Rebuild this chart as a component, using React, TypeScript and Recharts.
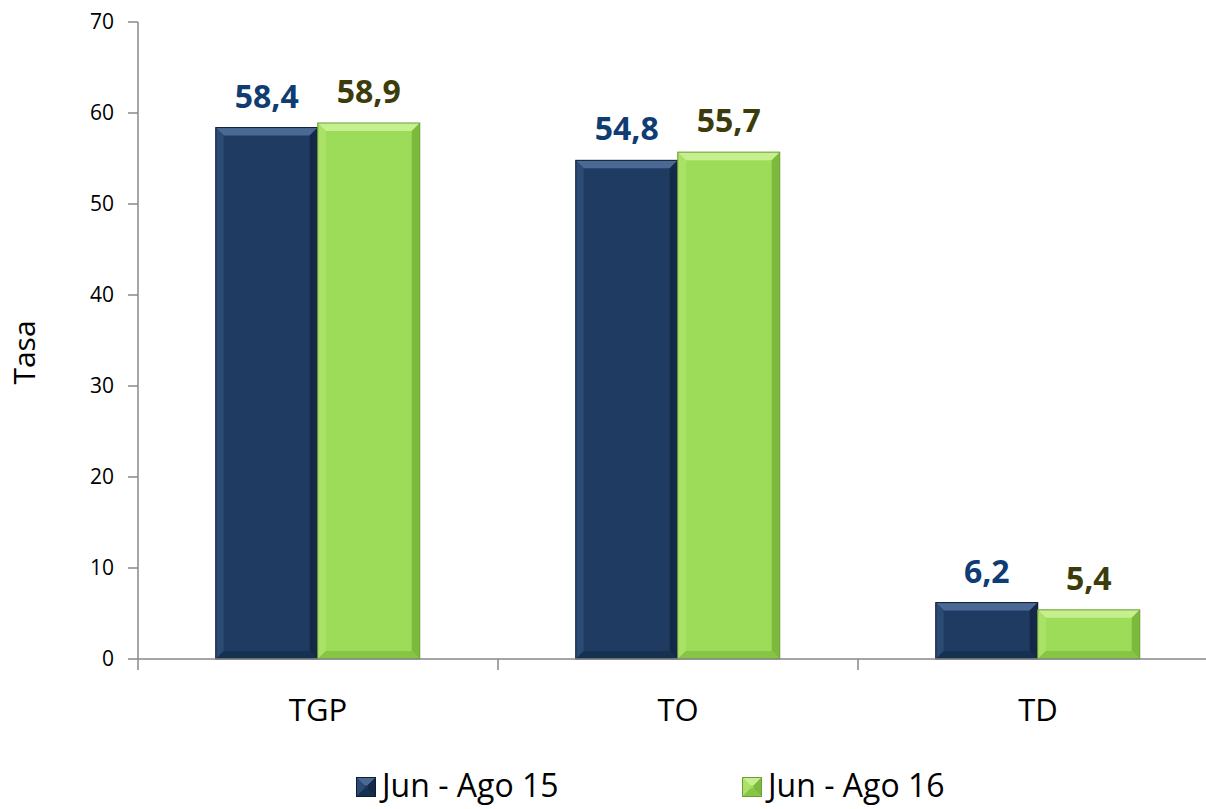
import React from 'react';
import { BarChart, Bar, XAxis, YAxis, Legend, LabelList } from 'recharts';

const categories = ['TGP', 'TO', 'TD'];
const junAgo15 = [58.4, 54.8, 6.2];
const junAgo16 = [58.9, 55.7, 5.4];
const yTicks = [0, 10, 20, 30, 40, 50, 60, 70];
const seriesNames = ['Jun - Ago 15', 'Jun - Ago 16'];

const data = categories.map((c, i) => ({ name: c, a: junAgo15[i], b: junAgo16[i] }));

const FONT = '"Open Sans", sans-serif';
const AXIS = '#888888';

const palettes: Record<string, { main: string; top: string; left: string; right: string; bottom: string; edge: string }> = {
  a: { main: '#1F3B62', top: '#4A6A95', left: '#2B4A74', right: '#142847', bottom: '#16304F', edge: '#0E1D33' },
  b: { main: '#9DDC59', top: '#C6F08F', left: '#AAE268', right: '#7CB93C', bottom: '#86C546', edge: '#6C9E34' },
};

// barra con biselado estilo Excel
const BevelBar = (props: any) => {
  const { x, y, width: w, height: h, pal } = props;
  if (!w || !h) return null;
  const p = palettes[pal];
  const b = Math.min(8, h / 2, w / 2);
  return (
    <g>
      <rect x={x} y={y} width={w} height={h} fill={p.main} />
      <polygon points={`${x},${y} ${x + w},${y} ${x + w - b},${y + b} ${x + b},${y + b}`} fill={p.top} />
      <polygon points={`${x},${y} ${x + b},${y + b} ${x + b},${y + h - b} ${x},${y + h}`} fill={p.left} />
      <polygon points={`${x + w},${y} ${x + w - b},${y + b} ${x + w - b},${y + h - b} ${x + w},${y + h}`} fill={p.right} />
      <polygon points={`${x},${y + h} ${x + b},${y + h - b} ${x + w - b},${y + h - b} ${x + w},${y + h}`} fill={p.bottom} />
      <rect x={x} y={y} width={w} height={h} fill="none" stroke={p.edge} strokeWidth={1} />
    </g>
  );
};

const CategoryTick = (props: any) => {
  const { x, y, payload } = props;
  const half = payload && payload.offset ? payload.offset : 180;
  return (
    <g>
      <line x1={x - half} x2={x - half} y1={y} y2={y + 11} stroke={AXIS} strokeWidth={1.5} />
      <text x={x} y={y + 62} textAnchor="middle" fontFamily={FONT} fontSize={31} fill="#000">
        {payload.value}
      </text>
    </g>
  );
};

const YTitle = (props: any) => {
  const vb = props.viewBox || {};
  const cy = (vb.y ?? 22) + (vb.height ?? 637) / 2 + 12;
  return (
    <text x={0} y={0} transform={`translate(35, ${cy}) rotate(-90)`} textAnchor="middle" fontFamily={FONT} fontSize={30} fill="#000">
      Tasa
    </text>
  );
};

const LegendContent = () => {
  const items = [
    { name: seriesNames[0], pal: 'a' },
    { name: seriesNames[1], pal: 'b' },
  ];
  return (
    <div style={{ display: 'flex', fontFamily: FONT, fontSize: 32, lineHeight: 1.2, color: '#000' }}>
      {items.map((it, i) => (
        <div key={it.name} style={{ display: 'flex', alignItems: 'center', width: i === 0 ? 386 : 'auto' }}>
          <svg width={20} height={20} style={{ marginRight: 6, marginTop: 4 }}>
            <BevelBar x={0.5} y={0.5} width={19} height={19} pal={it.pal} />
          </svg>
          <span>{it.name}</span>
        </div>
      ))}
    </div>
  );
};

const fmt = (v: any) => String(v).replace('.', ',');

export default function App() {
  return (
    <div style={{ position: 'absolute', left: 0, top: 0, width: 1206, height: 809, overflow: 'hidden', background: '#fff' }}>
      <BarChart
        width={1230}
        height={809}
        data={data}
        margin={{ top: 22, right: 12, left: 0, bottom: 60 }}
        barGap={0}
        barCategoryGap="21.6%"
      >
        <XAxis
          dataKey="name"
          height={90}
          stroke={AXIS}
          strokeWidth={1.5}
          tickLine={false}
          tickSize={0}
          tickMargin={0}
          tick={<CategoryTick />}
          interval={0}
        />
        <YAxis
          width={138}
          domain={[0, 70]}
          ticks={yTicks}
          interval={0}
          stroke={AXIS}
          strokeWidth={1.5}
          tickSize={10}
          tickMargin={14}
          tick={{ fill: '#000', fontFamily: FONT, fontSize: 21 }}
          label={<YTitle />}
        />
        <Legend
          verticalAlign="middle"
          content={<LegendContent />}
          wrapperStyle={{ top: 766, left: 356, width: 760 }}
        />
        <Bar dataKey="a" name={seriesNames[0]} isAnimationActive={false} shape={(p: any) => <BevelBar {...p} pal="a" />}>
          <LabelList
            dataKey="a"
            position="top"
            offset={20}
            formatter={fmt}
            style={{ fill: '#0F3D73', fontFamily: FONT, fontSize: 32, fontWeight: 700 }}
          />
        </Bar>
        <Bar dataKey="b" name={seriesNames[1]} isAnimationActive={false} shape={(p: any) => <BevelBar {...p} pal="b" />}>
          <LabelList
            dataKey="b"
            position="top"
            offset={20}
            formatter={fmt}
            style={{ fill: '#3C3C0A', fontFamily: FONT, fontSize: 32, fontWeight: 700 }}
          />
        </Bar>
      </BarChart>
    </div>
  );
}
